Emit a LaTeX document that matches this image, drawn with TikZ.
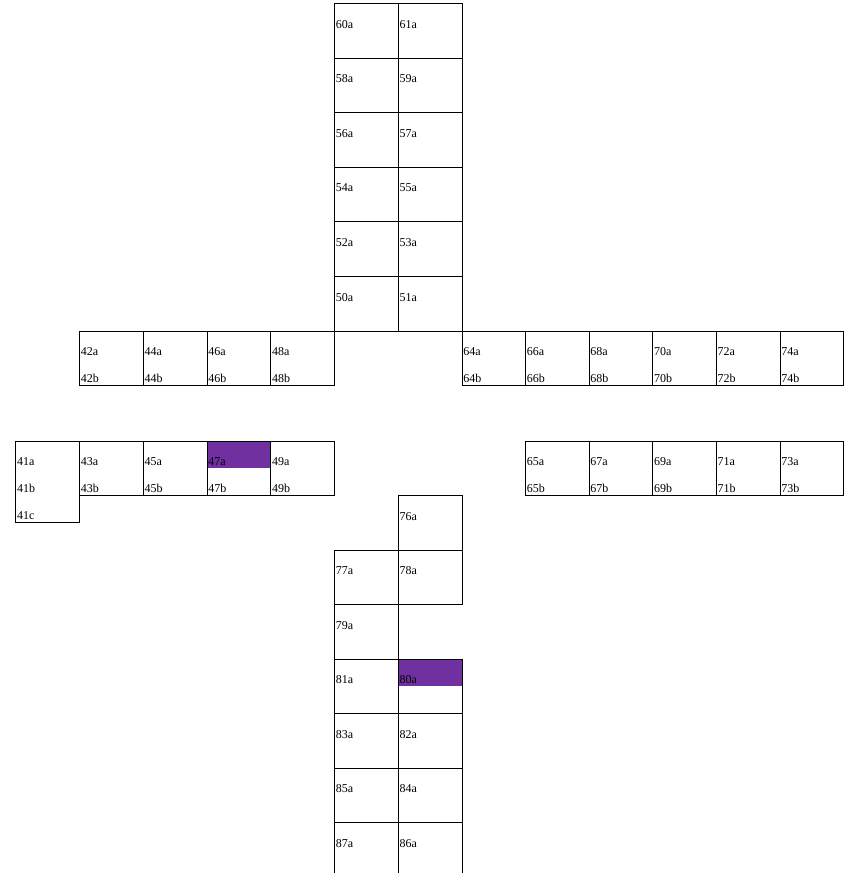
\documentclass[tikz,border=0pt]{standalone}
\usepackage{fontspec}
\setmainfont{Liberation Serif}
\usepackage{xcolor}

\definecolor{seatpurple}{RGB}{112,48,160}

\tikzset{
  cell/.style={draw=black, line width=0.75pt},
  picked/.style={fill=seatpurple, draw=none},
  lbl/.style={anchor=base west, inner sep=0pt, font=\fontsize{9pt}{11pt}\selectfont}
}

\begin{document}
\begin{tikzpicture}[x=0.75pt,y=0.75pt,yscale=-1,xscale=1]

\useasboundingbox (0,0) rectangle (844,873);

% highlighted halves
\fill[picked] (207,441) rectangle ++(63.75,27);
\fill[picked] (398.25,659) rectangle ++(63.75,27);

% upper column
\foreach \y/\a/\b in {4/60a/61a, 58.5/58a/59a, 113/56a/57a, 167.5/54a/55a, 222/52a/53a, 276.5/50a/51a} {
  \draw[cell] (334.5,\y) rectangle ++(63.75,54.5);
  \draw[cell] (398.25,\y) rectangle ++(63.75,54.5);
  \node[lbl] (n\a) at (335.5,\y+24.5) {\a};
  \node[lbl] (n\b) at (399.25,\y+24.5) {\b};
}

% left arm, first row
\foreach \x/\n in {79.5/42, 143.25/44, 207/46, 270.75/48} {
  \draw[cell] (\x,331) rectangle ++(63.75,54.5);
  \node[lbl] (a\n) at (\x+1,355.5) {\n a};
  \node[lbl] (b\n) at (\x+1,382.5) {\n b};
}

% right arm, first row
\foreach \x/\n in {462/64, 525.6/66, 589.2/68, 652.8/70, 716.4/72, 780/74} {
  \draw[cell] (\x,331) rectangle ++(63.6,54.5);
  \node[lbl] (a\n) at (\x+1,355.5) {\n a};
  \node[lbl] (b\n) at (\x+1,382.5) {\n b};
}

% left arm, second row
\draw[cell] (15.75,441) rectangle ++(63.75,81);
\node[lbl] (a41) at (16.75,465.5) {41a};
\node[lbl] (b41) at (16.75,492.5) {41b};
\node[lbl] (c41) at (16.75,519.5) {41c};
\foreach \x/\n in {79.5/43, 143.25/45, 207/47, 270.75/49} {
  \draw[cell] (\x,441) rectangle ++(63.75,54.5);
  \node[lbl] (a\n) at (\x+1,465.5) {\n a};
  \node[lbl] (b\n) at (\x+1,492.5) {\n b};
}

% right arm, second row
\foreach \x/\n in {525.6/65, 589.2/67, 652.8/69, 716.4/71, 780/73} {
  \draw[cell] (\x,441) rectangle ++(63.6,54.5);
  \node[lbl] (a\n) at (\x+1,465.5) {\n a};
  \node[lbl] (b\n) at (\x+1,492.5) {\n b};
}

% lower column
\draw[cell] (398.25,495.5) rectangle ++(63.75,54.5);
\node[lbl] (n76a) at (399.25,520) {76a};
\draw[cell] (334.5,550) rectangle ++(63.75,54.5);
\draw[cell] (398.25,550) rectangle ++(63.75,54.5);
\node[lbl] (n77a) at (335.5,574.5) {77a};
\node[lbl] (n78a) at (399.25,574.5) {78a};
\draw[cell] (334.5,604.5) rectangle ++(63.75,54.5);
\node[lbl] (n79a) at (335.5,629) {79a};
\foreach \y/\a/\b in {659/81a/80a, 713.5/83a/82a, 768/85a/84a, 822.5/87a/86a} {
  \draw[cell] (334.5,\y) rectangle ++(63.75,54.5);
  \draw[cell] (398.25,\y) rectangle ++(63.75,54.5);
  \node[lbl] (n\a) at (335.5,\y+24.5) {\a};
  \node[lbl] (n\b) at (399.25,\y+24.5) {\b};
}

\end{tikzpicture}
\end{document}
